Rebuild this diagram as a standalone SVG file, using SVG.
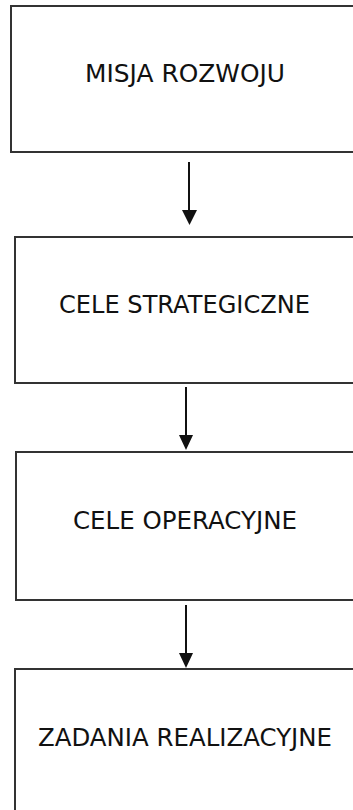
<svg xmlns="http://www.w3.org/2000/svg" width="353" height="810" viewBox="0 0 353 810">
<style>
.box{fill:#fff;stroke:#333;stroke-width:2}
.lbl{font-family:"DejaVu Sans",Verdana,sans-serif;font-size:24px;fill:#111}
.con{stroke:#111;stroke-width:2;fill:none}
.head{fill:#111}
</style>
<rect width="353" height="810" fill="#fff"/>
<g id="n1"><rect class="box" x="11" y="6" width="360" height="146"/><text class="lbl" x="85" y="82" textLength="200" lengthAdjust="spacingAndGlyphs">MISJA ROZWOJU</text></g>
<g id="n2"><rect class="box" x="15" y="237" width="360" height="146"/><text class="lbl" x="59" y="313" textLength="251" lengthAdjust="spacingAndGlyphs">CELE STRATEGICZNE</text></g>
<g id="n3"><rect class="box" x="16" y="452" width="360" height="148"/><text class="lbl" x="73" y="529" textLength="224" lengthAdjust="spacingAndGlyphs">CELE OPERACYJNE</text></g>
<g id="n4"><rect class="box" x="15" y="669" width="360" height="160"/><text class="lbl" x="38" y="746" textLength="294" lengthAdjust="spacingAndGlyphs">ZADANIA REALIZACYJNE</text></g>
<g id="connectors">
<line class="con" x1="189" y1="162" x2="189" y2="212"/><polygon class="head" points="182,210 197,210 189.5,225"/>
<line class="con" x1="186" y1="387" x2="186" y2="437"/><polygon class="head" points="179,435 193,435 186,450"/>
<line class="con" x1="186" y1="605" x2="186" y2="655"/><polygon class="head" points="179,653 193,653 186,668"/>
</g>
</svg>
